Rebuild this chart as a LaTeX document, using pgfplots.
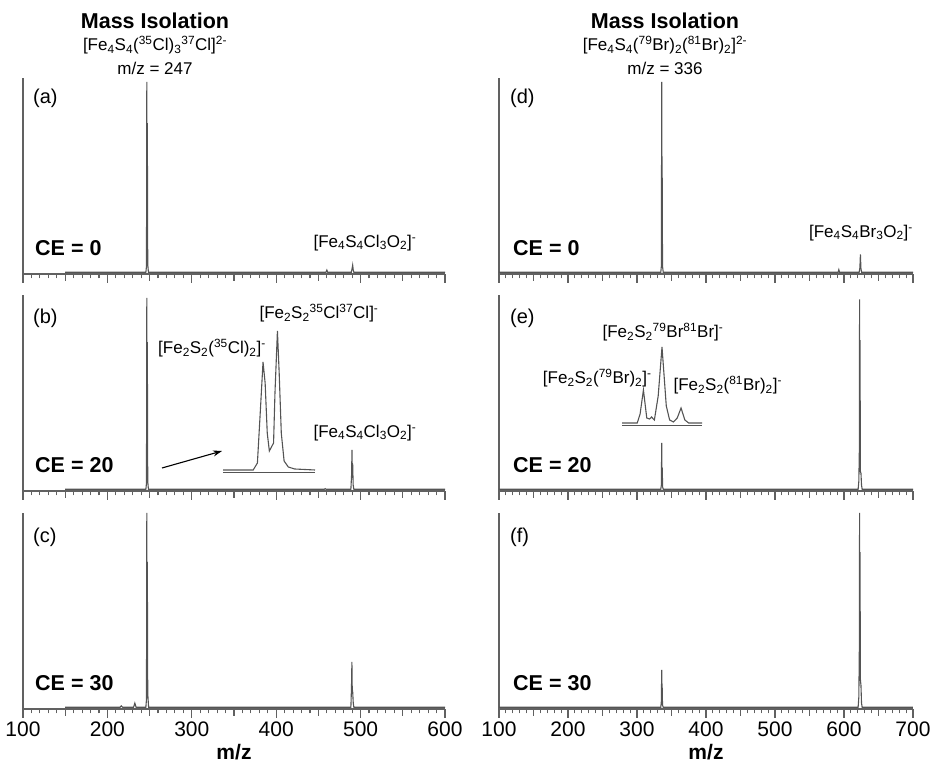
\documentclass[border=0pt]{standalone}
\usepackage{fontspec}
\setmainfont{Liberation Sans}
\usepackage{pgfplots}
\pgfplotsset{compat=1.18}
\usetikzlibrary{arrows.meta}
\definecolor{axcol}{gray}{0.38}
\definecolor{speccol}{gray}{0.33}
\newcommand\Sub[1]{\textsubscript{#1}}
\newcommand\Sup[1]{\textsuperscript{#1}}
\newcommand\fa{\fontsize{17}{19}\selectfont}
\newcommand\fb{\fontsize{21.5}{24}\selectfont\bfseries}
\newcommand\fp{\fontsize{20}{22}\selectfont}
\pgfplotsset{
  ms/.style={
    scale only axis, height=196pt, anchor=south west,
    axis lines*=left, ymin=0, ymax=1, ytick=\empty,
    tick align=outside, clip=false,
    axis line style={axcol, line width=1.3pt},
    every tick/.style={axcol, line width=1.1pt},
    major tick length=9pt, minor tick length=4.5pt,
    extra x tick style={major tick length=7pt},
    extra x tick labels={},
    tick label style={font=\fontsize{21}{24}\selectfont},
    /pgf/number format/assume math mode=true,
    x label style={font=\fontsize{21}{24}\selectfont\bfseries,
      at={(axis description cs:0.5,0)}, anchor=center, yshift=-43pt},
  },
  lft/.style={ms, width=422pt, xmin=100, xmax=600,
    xtick={100,200,...,600}, minor xtick={110,120,...,590},
    extra x ticks={150,250,...,550}},
  rgt/.style={ms, width=414pt, xmin=100, xmax=700,
    xtick={100,200,...,700}, minor xtick={110,120,...,690},
    extra x ticks={150,250,...,650}},
  top/.style={xticklabel={\relax}},
  bot/.style={xlabel={m/z}},
  spec/.style={speccol, line width=1.1pt, no marks},
  inset/.style={scale only axis, anchor=south west, ymin=0,
    axis x line*=bottom, axis y line=none, xtick=\empty, ytick=\empty,
    axis line style={speccol, line width=1pt}, clip=false},
}
\begin{document}
\begin{tikzpicture}
\path[use as bounding box] (0,0) rectangle (930pt,765pt);

% ---- left column: Cl cluster ----
\begin{axis}[lft, top, at={(23pt,491pt)}]
\addplot[spec] coordinates {(150,0.009) (245.6,0.009) (246.3,0.04) (246.7,0.98)
  (247.0,0.15) (247.3,0.77) (247.8,0.05) (248.6,0.009) (459,0.009) (460,0.02)
  (461,0.009) (489,0.009) (490,0.03) (490.6,0.045) (491.3,0.02) (492,0.009) (600,0.009)};
\end{axis}
\begin{axis}[lft, top, at={(23pt,274pt)}]
\addplot[spec] coordinates {(150,0.009) (245.6,0.009) (246.3,0.04) (246.7,0.985)
  (247.0,0.2) (247.3,0.76) (247.8,0.05) (248.6,0.009) (457,0.009) (458,0.012)
  (459,0.009) (488.5,0.009) (489.3,0.08) (489.8,0.21) (490.2,0.1) (490.6,0.14)
  (491.2,0.03) (492,0.009) (600,0.009)};
\end{axis}
\begin{axis}[lft, bot, at={(23pt,56pt)}]
\addplot[spec] coordinates {(150,0.009) (215,0.009) (216.5,0.016) (218,0.009)
  (231,0.009) (232.5,0.03) (234,0.009) (245.6,0.009) (246.3,0.05) (246.7,1.0)
  (247.0,0.3) (247.3,0.75) (247.8,0.08) (248.8,0.009) (488.5,0.009) (489.2,0.11)
  (489.7,0.24) (490.1,0.1) (490.6,0.09) (491.3,0.03) (492,0.009) (600,0.009)};
\end{axis}
% inset (b)
\begin{axis}[inset, at={(223pt,292pt)}, width=92pt, height=142pt,
  xmin=240.3, xmax=253.4, ymax=142]
\addplot[spec] coordinates {(240.3,3) (244.6,3) (245.2,10) (245.6,60) (246.0,111)
  (246.3,90) (246.6,40) (246.9,22) (247.2,26) (247.5,30) (247.7,80) (248.05,142)
  (248.3,100) (248.6,40) (249.0,12) (249.6,6) (250.5,4) (253.4,3)};
\end{axis}

% ---- right column: Br cluster ----
\begin{axis}[rgt, top, at={(499pt,491pt)}]
\addplot[spec] coordinates {(100,0.009) (334.5,0.009) (335.3,0.04) (335.8,0.98)
  (336.1,0.2) (336.4,0.6) (337,0.04) (338,0.009) (591.5,0.009) (592.5,0.022)
  (593.5,0.009) (622,0.009) (623,0.03) (623.8,0.1) (624.5,0.03) (625.5,0.009) (700,0.009)};
\end{axis}
\begin{axis}[rgt, top, at={(499pt,274pt)}]
\addplot[spec] coordinates {(100,0.009) (334.5,0.009) (335.3,0.03) (335.8,0.245)
  (336.1,0.05) (336.5,0.12) (337.2,0.02) (338,0.009) (620.5,0.009) (621.5,0.05)
  (622.2,0.2) (622.6,0.977) (622.9,0.3) (623.2,0.77) (623.8,0.1) (624.6,0.09)
  (625.4,0.03) (626.3,0.009) (700,0.009)};
\end{axis}
\begin{axis}[rgt, bot, at={(499pt,56pt)}]
\addplot[spec] coordinates {(100,0.009) (334.5,0.009) (335.3,0.04) (335.8,0.2)
  (336.1,0.05) (336.4,0.13) (337,0.02) (338,0.009) (620.5,0.009) (621.5,0.06)
  (622.2,0.3) (622.6,1.0) (622.9,0.35) (623.2,0.8) (623.8,0.15) (624.6,0.12)
  (625.4,0.03) (626.3,0.009) (700,0.009)};
\end{axis}
% inset (e)
\begin{axis}[inset, at={(622pt,339pt)}, width=80pt, height=79pt,
  xmin=331.8, xmax=340.2, ymax=79]
\addplot[spec] coordinates {(331.8,3) (333.4,3) (333.7,12) (334.05,36) (334.4,8)
  (334.7,7) (334.9,9) (335.2,6) (335.6,30) (336.0,79) (336.45,20) (336.8,6)
  (337.2,4) (337.6,8) (338.0,18) (338.4,6) (338.8,3) (340.2,3)};
\end{axis}

% ---- headers ----
\node[font=\fb] at (155pt,744pt) {Mass Isolation};
\node[font=\fa] at (155pt,720pt) {[Fe\Sub4S\Sub4(\Sup{35}Cl)\Sub3\Sup{37}Cl]\Sup{2-}};
\node[font=\fa] at (155pt,697pt) {m/z = 247};
\node[font=\fb] at (665pt,744pt) {Mass Isolation};
\node[font=\fa] at (665pt,720pt) {[Fe\Sub4S\Sub4(\Sup{79}Br)\Sub2(\Sup{81}Br)\Sub2]\Sup{2-}};
\node[font=\fa] at (665pt,697pt) {m/z = 336};

% ---- panel letters and CE ----
\node[font=\fp, anchor=west, inner sep=0] at (33pt,667pt) {(a)};
\node[font=\fp, anchor=west, inner sep=0] at (33pt,447pt) {(b)};
\node[font=\fp, anchor=west, inner sep=0] at (33pt,228pt) {(c)};
\node[font=\fp, anchor=west, inner sep=0] at (510pt,667pt) {(d)};
\node[font=\fp, anchor=west, inner sep=0] at (510pt,447pt) {(e)};
\node[font=\fp, anchor=west, inner sep=0] at (510pt,228pt) {(f)};
\node[font=\fb, anchor=west, inner sep=0] at (35pt,517pt) {CE = 0};
\node[font=\fb, anchor=west, inner sep=0] at (35pt,300pt) {CE = 20};
\node[font=\fb, anchor=west, inner sep=0] at (35pt,82pt) {CE = 30};
\node[font=\fb, anchor=west, inner sep=0] at (513pt,517pt) {CE = 0};
\node[font=\fb, anchor=west, inner sep=0] at (513pt,300pt) {CE = 20};
\node[font=\fb, anchor=west, inner sep=0] at (513pt,82pt) {CE = 30};

% ---- peak annotations ----
\node[font=\fa] at (365pt,522pt) {[Fe\Sub4S\Sub4Cl\Sub3O\Sub2]\Sup{-}};
\node[font=\fa] at (365pt,332pt) {[Fe\Sub4S\Sub4Cl\Sub3O\Sub2]\Sup{-}};
\node[font=\fa] at (212pt,417pt) {[Fe\Sub2S\Sub2(\Sup{35}Cl)\Sub2]\Sup{-}};
\node[font=\fa] at (319pt,452pt) {[Fe\Sub2S\Sub2\Sup{35}Cl\Sup{37}Cl]\Sup{-}};
\node[font=\fa] at (861pt,532pt) {[Fe\Sub4S\Sub4Br\Sub3O\Sub2]\Sup{-}};
\node[font=\fa] at (663pt,433pt) {[Fe\Sub2S\Sub2\Sup{79}Br\Sup{81}Br]\Sup{-}};
\node[font=\fa, anchor=east] at (655pt,387pt) {[Fe\Sub2S\Sub2(\Sup{79}Br)\Sub2]\Sup{-}};
\node[font=\fa, anchor=west] at (670pt,380pt) {[Fe\Sub2S\Sub2(\Sup{81}Br)\Sub2]\Sup{-}};
\draw[-{Stealth[length=9pt,width=6pt]}, line width=1.1pt] (162pt,297pt) -- (222pt,314pt);
\end{tikzpicture}
\end{document}
